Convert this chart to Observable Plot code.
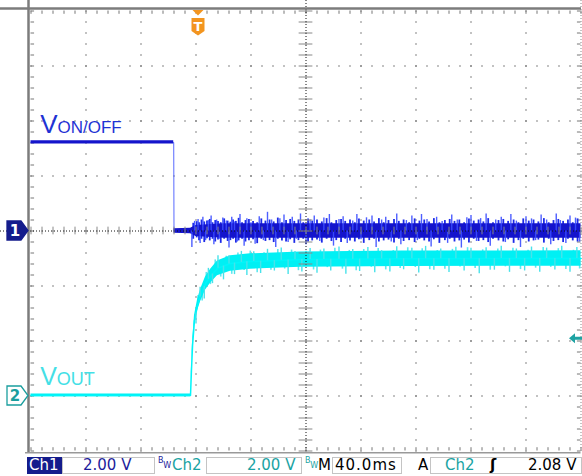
<!DOCTYPE html>
<html><head><meta charset="utf-8">
<script src="https://cdn.jsdelivr.net/npm/d3@7"></script>
<script src="https://cdn.jsdelivr.net/npm/@observablehq/plot@0.6"></script>
<style>
body{margin:0;background:#fff;width:582px;height:476px;overflow:hidden;font-family:"DejaVu Sans",Verdana,sans-serif}
#wrap{position:relative;width:582px;height:476px}
#bar{position:absolute;left:0;top:454px;width:582px;height:22px}
.bx{position:absolute;top:3px;height:17px;border:1px solid #c4c4c4;box-sizing:border-box}
.t{position:absolute;top:1px;font-size:15px;line-height:20px;white-space:pre;color:#000}
.bw{position:absolute;top:3px;font-size:8px;line-height:8px;white-space:pre}
.bw i{position:relative;top:5px;font-style:normal}
</style></head><body><div id="wrap"><div id="chart"></div><div id="bar">
<div class="bx" style="left:27px;width:35px;background:#141c8c;border-color:#141c8c"></div>
<span class="t" style="left:29px;color:#fff">Ch1</span>
<div class="bx" style="left:62px;width:93px"></div>
<span class="t" style="left:83px;color:#1c1c9c">2.00 V</span>
<span class="bw" style="left:158px;color:#1c1c9c">B<i>W</i></span>
<span class="t" style="left:172px;color:#1aa3a3">Ch2</span>
<div class="bx" style="left:206px;width:96px"></div>
<span class="t" style="left:247px;color:#1aa3a3">2.00 V</span>
<span class="bw" style="left:305px;color:#1aa3a3">B<i>W</i></span>
<span class="t" style="left:318px">M</span>
<div class="bx" style="left:332px;width:70px"></div>
<span class="t" style="left:335px;letter-spacing:1px">40.0ms</span>
<span class="t" style="left:418px">A</span>
<div class="bx" style="left:430px;width:152px"></div>
<span class="t" style="left:445px;color:#1aa3a3">Ch2</span>
<span class="t" style="left:490px;font-weight:bold">ʃ</span>
<span class="t" style="left:528px">2.08 V</span>
</div></div>
<script>
// ---- data (time in ms relative to trigger, voltage in V) ----
const ch1Time  = [-120, -16.2, -16.0, -4, 0, 20, 280];
const ch1Volt  = [3.22, 3.22, 0, 0, 0, 0, 0];
const ch1Noise = [0.06, 0.06, 0.08, 0.1, 0.2, 0.26, 0.26];

const ch2Time  = [-120, -4.0, -3.3, -2.5, -1.1, 1.1, 3.3, 6.9, 10.5, 15.6, 25.1, 39.6, 76, 150, 280];
const ch2Volt  = [0.02, 0.02, 0.93, 1.84, 2.75, 3.29, 3.65, 4.09, 4.35, 4.64, 4.82, 4.89, 4.96, 4.99, 5.0];
const ch2Noise = [0.05, 0.05, 0.1, 0.15, 0.18, 0.2, 0.22, 0.24, 0.25, 0.27, 0.28, 0.28, 0.28, 0.28, 0.28];

// large noise spikes (tip voltage)
const ch1SpikeT = [-3,-1,1.5,3,5,7,9,11,13,15,17,19.5,22,24,26,28,30,32,35,37,40,43,46,49,52,55,58,61,64,67,70,73,76,80,83,86,90,93,97,100,104,107,110,114,117,120,124,128,131,135,138,142,146,149,153,157,161,164,168,171,175,179,183,186,190,193,197,200,204,207,211,214,218,222,225,229,233,236,240,244,247,251,255,258,262,265,269,272,276,279];
const ch1SpikeV = [-0.6,0.35,0.42,-0.45,0.5,-0.35,0.38,0.55,-0.5,0.4,-0.3,0.47,0.36,-0.62,0.5,0.33,-0.4,0.6,-0.55,0.45,0.3,-0.48,0.52,-0.35,0.68,0.4,-0.6,0.45,0.58,-0.42,0.5,-0.3,0.62,-0.5,0.4,0.55,-0.38,0.47,0.6,-0.55,0.42,0.52,-0.45,0.36,0.6,-0.32,0.48,0.55,-0.6,0.4,0.5,-0.4,0.62,-0.5,0.38,0.55,-0.35,0.6,0.42,-0.58,0.5,0.35,-0.45,0.58,0.4,-0.62,0.48,0.56,-0.38,0.45,0.62,-0.55,0.4,0.5,-0.42,0.6,0.36,-0.6,0.52,0.44,-0.35,0.58,0.4,-0.5,0.62,0.38,-0.45,0.55,0.47,-0.4];
// smaller in-between spikes (low / high tips)
const ch1FuzzT  = [-2,0.5,2.2,4,6,8,10,12,14,16,18,20.5,23,25,27,29,31,33.5,36,38.5,41.5,44.5,47.5,50.5,53.5,56.5,59.5,62.5,65.5,68.5,71.5,74.5,78,81.5,84.5,88,91.5,95,98.5,102,105.5,108.5,112,115.5,118.5,122,126,129.5,133,136.5,140,144,147.5,151,155,159,162.5,166,169.5,173,177,181,184.5,188,191.5,195,198.5,202,205.5,209,212.5,216,220,223.5,227,231,234.5,238,242,245.5,249,253,256.5,260,263.5,267,270.5,274,277.5];
const ch1FuzzLo = [-0.3,-0.25,-0.35,-0.3,-0.42,-0.28,-0.36,-0.3,-0.4,-0.33,-0.45,-0.3,-0.38,-0.35,-0.3,-0.44,-0.36,-0.3,-0.4,-0.35,-0.32,-0.46,-0.3,-0.38,-0.35,-0.42,-0.3,-0.36,-0.4,-0.32,-0.45,-0.35,-0.3,-0.4,-0.36,-0.33,-0.44,-0.3,-0.38,-0.35,-0.42,-0.3,-0.36,-0.4,-0.32,-0.45,-0.35,-0.3,-0.4,-0.36,-0.33,-0.44,-0.3,-0.38,-0.35,-0.42,-0.3,-0.36,-0.4,-0.32,-0.45,-0.35,-0.3,-0.4,-0.36,-0.33,-0.44,-0.3,-0.38,-0.35,-0.42,-0.3,-0.36,-0.4,-0.32,-0.45,-0.35,-0.3,-0.4,-0.36,-0.33,-0.44,-0.3,-0.38,-0.35,-0.42,-0.3,-0.36,-0.4];
const ch1FuzzHi = [0.28,0.34,0.3,0.4,0.33,0.36,0.42,0.3,0.38,0.35,0.3,0.44,0.36,0.32,0.4,0.35,0.46,0.3,0.38,0.42,0.35,0.3,0.44,0.36,0.4,0.33,0.47,0.3,0.38,0.42,0.35,0.4,0.3,0.44,0.36,0.4,0.33,0.45,0.3,0.38,0.42,0.35,0.4,0.3,0.44,0.36,0.4,0.33,0.45,0.3,0.38,0.42,0.35,0.4,0.3,0.44,0.36,0.4,0.33,0.45,0.3,0.38,0.42,0.35,0.4,0.3,0.44,0.36,0.4,0.33,0.45,0.3,0.38,0.42,0.35,0.4,0.3,0.44,0.36,0.4,0.33,0.45,0.3,0.38,0.42,0.35,0.4,0.3,0.44];

const ch2SpikeT = [0,3,6,9,12,16,20,24,28,33,37,42,47,52,57,62,67,72,77,83,88,93,98,104,109,114,119,125,130,135,141,146,151,157,162,167,173,178,184,189,195,200,206,211,217,222,228,233,239,244,250,255,261,266,272,277];
const ch2SpikeV = [-0.4,0.35,-0.45,0.4,-0.35,0.45,-0.5,0.3,-0.42,0.4,-0.5,0.35,-0.45,0.42,-0.38,0.45,-0.52,0.3,-0.45,0.4,-0.5,0.38,-0.42,0.45,-0.55,0.35,-0.45,0.42,-0.5,0.3,-0.48,0.44,-0.4,0.38,-0.52,0.45,-0.42,0.35,-0.5,0.42,-0.45,0.38,-0.55,0.4,-0.42,0.45,-0.5,0.35,-0.45,0.42,-0.5,0.38,-0.42,0.45,-0.5,0.4];
const ch2FuzzT  = [1.5,4.5,7.5,10.5,14,18,22,26,30.5,35,39.5,44.5,49.5,54.5,59.5,64.5,69.5,74.5,80,85.5,90.5,95.5,101,106.5,111.5,116.5,122,127.5,132.5,138,143.5,148.5,154,159.5,164.5,170,175.5,181,186.5,192,197.5,203,208.5,214,219.5,225,230.5,236,241.5,247,252.5,258,263.5,269,274.5,279];
const ch2FuzzV  = [0.3,-0.34,0.36,-0.3,0.4,-0.36,0.32,-0.4,0.35,-0.3,0.38,-0.42,0.3,-0.35,0.4,-0.32,0.36,-0.4,0.3,-0.38,0.34,-0.3,0.4,-0.36,0.32,-0.42,0.35,-0.3,0.38,-0.4,0.3,-0.35,0.4,-0.32,0.36,-0.4,0.3,-0.38,0.34,-0.3,0.4,-0.36,0.32,-0.42,0.35,-0.3,0.38,-0.4,0.3,-0.35,0.4,-0.32,0.36,-0.4,0.3,-0.38];

const voltsPerDiv = 2;        // both channels
const ch1Offset = 0;          // divisions
const ch2Offset = -3;         // divisions
const trigTime = 0, trigLevel = 2.08;
const labelTime = -113;
const ch1LabelV = 3.55, ch2LabelV = 0.38;

// ---- build ----
const toDiv = (v, off) => v / voltsPerDiv + off;
const ch1 = ch1Time.map((t,i)=>({t, y:toDiv(ch1Volt[i],ch1Offset), n:ch1Noise[i]/voltsPerDiv}));
const ch2 = ch2Time.map((t,i)=>({t, y:toDiv(ch2Volt[i],ch2Offset), n:ch2Noise[i]/voltsPerDiv}));
function ch2At(t){
  const i = d3.bisectRight(ch2Time, t);
  if (i <= 0) return ch2Volt[0];
  if (i >= ch2Time.length) return ch2Volt[ch2Volt.length-1];
  const a = i-1, f = (t-ch2Time[a])/(ch2Time[i]-ch2Time[a]);
  return ch2Volt[a] + f*(ch2Volt[i]-ch2Volt[a]);
}
const ch1Spikes = ch1SpikeT.map((t,i)=>({t, y1:toDiv(0,ch1Offset), y2:toDiv(ch1SpikeV[i],ch1Offset)}));
const ch1Fuzz = ch1FuzzT.map((t,i)=>({t, y1:toDiv(ch1FuzzLo[i],ch1Offset), y2:toDiv(ch1FuzzHi[i],ch1Offset)}));
const ch2Spikes = ch2SpikeT.map((t,i)=>{const b=ch2At(t); return {t, y1:toDiv(b,ch2Offset), y2:toDiv(b+ch2SpikeV[i],ch2Offset)};});
const ch2Fuzz = ch2FuzzT.map((t,i)=>{const b=ch2At(t); return {t, y1:toDiv(b,ch2Offset), y2:toDiv(b+ch2FuzzV[i],ch2Offset)};});

const tMin=-120, tMax=280, msPerDiv=40;
const gridPts=[];
for (let i=1;i<=9;i++) for (let k=0;k<=40;k++) gridPts.push({t:tMin+msPerDiv*i, y:-4+0.2*k});
for (let j=-3;j<=3;j++) for (let k=0;k<=50;k++) gridPts.push({t:tMin+8*k, y:j});
const yMinor = d3.range(0,41).map(k=>-4+0.2*k);
const xMinor = d3.range(0,51).map(k=>tMin+8*k);

const plot = Plot.plot({
  width:582, height:454,
  x:{domain:[tMin,tMax], range:[30.5,580.5], axis:null},
  y:{domain:[-4,4], range:[450.5,10.5], axis:null},
  style:{background:"#fff"},
  marks:[
    Plot.dot(gridPts,{x:"t",y:"y",r:0.75,fill:"#666",stroke:null}),
    // edge ticks
    Plot.ruleY(yMinor,{y:d=>d,x1:tMin,x2:tMin+2.6,stroke:"#777",strokeWidth:1}),
    Plot.ruleY(yMinor,{y:d=>d,x1:tMax-2.6,x2:tMax,stroke:"#777",strokeWidth:1}),
    Plot.ruleX(xMinor,{x:d=>d,y1:4,y2:3.94,stroke:"#777",strokeWidth:1}),
    Plot.ruleX(xMinor,{x:d=>d,y1:-4,y2:-3.94,stroke:"#777",strokeWidth:1}),
    Plot.ruleX([tMax],{stroke:"#888",strokeWidth:1,strokeDasharray:"1,2"}),
    // channel 2 trace
    Plot.ruleX(ch2Fuzz,{x:"t",y1:"y1",y2:"y2",stroke:"#5ee8f0",strokeWidth:1.6}),
    Plot.areaY(ch2,{x:"t",y1:d=>d.y-d.n,y2:d=>d.y+d.n,fill:"#00f0f4"}),
    Plot.line(ch2,{x:"t",y:"y",stroke:"#00f6fa",strokeWidth:1.5}),
    Plot.ruleX(ch2Spikes,{x:"t",y1:"y1",y2:"y2",stroke:"#48e2ea",strokeWidth:1.4}),
    // channel 1 trace
    Plot.line(ch1,{x:"t",y:"y",stroke:"#5a6cff",strokeWidth:1}),
    Plot.ruleX(ch1Fuzz,{x:"t",y1:"y1",y2:"y2",stroke:"#1c2ae8",strokeWidth:1.8}),
    Plot.areaY(ch1,{x:"t",y1:d=>d.y-d.n,y2:d=>d.y+d.n,fill:"#1414cc"}),
    Plot.ruleX(ch1Spikes,{x:"t",y1:"y1",y2:"y2",stroke:"#3a4cff",strokeWidth:1.4,strokeOpacity:0.9}),
    // centre crosshair
    Plot.ruleY([0],{stroke:"#111",strokeWidth:1,strokeDasharray:"1,2"}),
    Plot.ruleX([tMin+5*msPerDiv],{stroke:"#111",strokeWidth:1,strokeDasharray:"1,2"}),
    Plot.ruleX(xMinor,{x:d=>d,y1:-0.07,y2:0.07,stroke:"#888",strokeWidth:1}),
    Plot.ruleY(yMinor,{y:d=>d,x1:tMin+5*msPerDiv-5,x2:tMin+5*msPerDiv+5,stroke:"#888",strokeWidth:1}),
    // frame
    Plot.ruleX([tMin],{dx:-2.5,stroke:"#7c7c7c",strokeWidth:2.5}),
    Plot.ruleY([4],{dy:-2.5,stroke:"#7c7c7c",strokeWidth:2.5}),
    Plot.ruleY([-4],{dy:1.8,stroke:"#999",strokeWidth:1.5,x1:tMin-4,x2:tMax})
  ]
});
document.getElementById("chart").appendChild(plot);

// annotations positioned through the plot's scales
const X = v => plot.scale("x").apply(v), Y = v => plot.scale("y").apply(v);
const svg = d3.select(plot);
function marker(y0, fill, stroke, txt, txtColor){
  const g = svg.append("g");
  g.append("path").attr("d",`M7,${y0-9.5}H21L28,${y0}L21,${y0+9.5}H7Z`).attr("fill",fill).attr("stroke",stroke).attr("stroke-width",1.3);
  g.append("text").attr("x",15).attr("y",y0+5.5).attr("text-anchor","middle").attr("fill",txtColor)
   .attr("font-family","DejaVu Sans, sans-serif").attr("font-weight","bold").attr("font-size",15).text(txt);
}
marker(Y(ch1Offset),"#141c8c","#141c8c","1","#fff");
marker(Y(ch2Offset),"#fff","#1a9e9e","2","#1a9e9e");

// trigger position marker
const tx = X(trigTime)+2.5;
svg.append("path").attr("d",`M${tx-5.5},10L${tx+5.5},10L${tx},15.5Z`).attr("fill","#f3951f");
svg.append("path").attr("d",`M${tx-6.5},18H${tx+6.5}V31L${tx},35.5L${tx-6.5},31Z`).attr("fill","#f3951f");
svg.append("text").attr("x",tx).attr("y",31).attr("text-anchor","middle").attr("fill","#fff")
  .attr("font-family","DejaVu Sans, sans-serif").attr("font-weight","bold").attr("font-size",13).text("T");

// trigger level arrow (Ch2)
const ly = Y(toDiv(trigLevel,ch2Offset));
svg.append("path").attr("d",`M569,${ly}L575,${ly-5}V${ly-1.5}H582V${ly+1.5}H575V${ly+5}Z`).attr("fill","#1fa3a3");

// channel labels
function label(v, off, big, small, color, bigSize, smallSize){
  const t = svg.append("text").attr("x",X(labelTime)).attr("y",Y(toDiv(v,off)))
    .attr("text-anchor","start").attr("fill",color).attr("font-family","Liberation Sans, Arial, sans-serif");
  t.append("tspan").attr("font-size",bigSize).text(big);
  t.append("tspan").attr("font-size",smallSize).text(small);
}
label(ch1LabelV, ch1Offset, "V", "ON/OFF", "#1f33d4", 26, 17);
label(ch2LabelV, ch2Offset, "V", "OUT", "#44dfe6", 25, 18);
</script></body></html>
